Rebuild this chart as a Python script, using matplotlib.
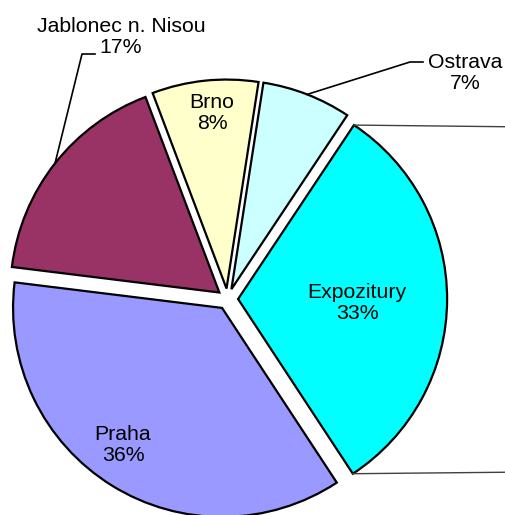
import numpy as np
import matplotlib.pyplot as plt


def arc_point(center, radius, explode, mid, angle):
    # point on the rim of an exploded wedge
    cx = center[0] + explode * np.cos(np.radians(mid))
    cy = center[1] + explode * np.sin(np.radians(mid))
    return cx + radius * np.cos(np.radians(angle)), cy + radius * np.sin(np.radians(angle))


def draw_pie(names, values, colors, labels, label_pos, leaders):
    center = (227.6, 216)
    radius = 209
    explode = 10.5  # offset in pixels, pie() does not scale it by the radius
    wedges, _ = plt.pie(values, colors=colors, explode=[explode] * len(values), startangle=-56.7,
                        counterclock=False, center=center, radius=radius,
                        wedgeprops={'edgecolor': 'black', 'linewidth': 1.6})
    plt.xlim(0, 506)
    plt.ylim(0, 515)

    for i, w in enumerate(wedges):
        mid = (w.theta1 + w.theta2) / 2
        x, y = label_pos[names[i]]
        plt.text(x, y, labels[i], ha='center', va='center', fontsize=15.3,
                 family='Liberation Sans', linespacing=1.15)
        if names[i] in leaders:
            px, py = arc_point(center, radius, explode, mid, mid)
            (ex, ey), (tx, ty) = leaders[names[i]]
            plt.plot([px, ex, tx], [py, ey, ty], color='black', linewidth=1.2)
        if names[i] == 'Expozitury':
            # connector lines towards the secondary chart
            for a, y_end in [(w.theta2, 388), (w.theta1, 43)]:
                px, py = arc_point(center, radius, explode, mid, a)
                plt.plot([px, 530], [py, y_end], color='#404040', linewidth=1.0, clip_on=False)
    return wedges


if __name__ == "__main__":
    names = ['Praha', 'Jablonec n. Nisou', 'Brno', 'Ostrava', 'Expozitury']
    values = [36.2, 17.3, 8.2, 6.9, 31.4]  # shares
    colors = ['#9999FF', '#993366', '#FFFFCC', '#CCFFFF', '#00FFFF']
    labels = ['Praha\n36%', 'Jablonec n. Nisou\n17%', 'Brno\n8%', 'Ostrava\n7%', 'Expozitury\n33%']
    label_pos = {'Praha': (123, 70), 'Jablonec n. Nisou': (121, 478), 'Brno': (212, 402),
                 'Ostrava': (465, 442), 'Expozitury': (357, 212)}
    leaders = {'Jablonec n. Nisou': ((82, 461), (95, 461)),
               'Ostrava': ((410, 453), (423, 453))}

    fig = plt.figure(figsize=(5.06, 5.15), dpi=100)
    fig.add_axes([0, 0, 1, 1])
    draw_pie(names, values, colors, labels, label_pos, leaders)
    plt.axis('off')
    plt.savefig('out.png', dpi=100)
